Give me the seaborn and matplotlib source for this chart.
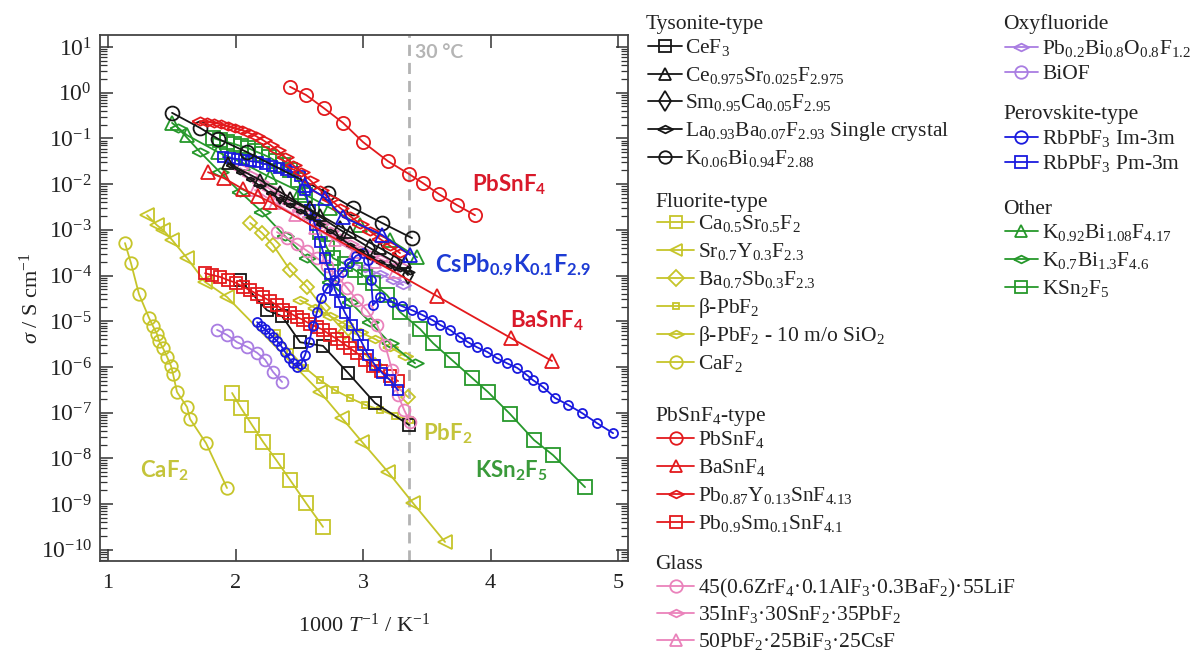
import numpy as np
import pandas as pd
import matplotlib
matplotlib.use("Agg")
import matplotlib.pyplot as plt
from matplotlib.lines import Line2D
from matplotlib.ticker import LogLocator, NullFormatter, FixedLocator
import seaborn as sns

# ---------------- data: x = 1000/T (K^-1), logsig = log10(sigma / S cm^-1) ----------------
cef3_x = [2.035, 2.247, 2.365, 2.506, 2.686, 2.882, 3.094, 3.361]
cef3_logsig = [-4.10, -4.76, -4.89, -5.46, -5.54, -6.13, -6.79, -7.27]

ce_sr_x = [1.941, 2.192, 2.427, 2.663, 2.898, 3.133, 3.329]
ce_sr_logsig = [-1.54, -1.91, -2.30, -2.68, -3.05, -3.40, -3.71]

sm_ca_x = [2.349, 2.584, 2.820, 3.055, 3.251, 3.353]
sm_ca_logsig = [-2.24, -2.57, -3.00, -3.40, -3.71, -3.99]

la_ba_x = [1.957, 2.035, 2.114, 2.192, 2.271, 2.349, 2.427, 2.506, 2.584, 2.663,
           2.741, 2.820, 2.898, 2.976, 3.055, 3.133, 3.212, 3.290, 3.369]
la_ba_logsig = [-1.58, -1.74, -1.89, -2.04, -2.20, -2.33, -2.46, -2.59, -2.72, -2.87,
                -3.03, -3.18, -3.33, -3.46, -3.60, -3.71, -3.79, -3.86, -3.92]

k_bi_x = [1.502, 1.722, 1.863, 2.090, 2.725, 2.922, 3.149, 3.384]
k_bi_logsig = [-0.44, -0.77, -1.01, -1.30, -2.20, -2.52, -2.85, -3.18]

ca_sr_x = [1.973, 2.043, 2.129, 2.216, 2.325, 2.427, 2.553, 2.686]
ca_sr_logsig = [-6.57, -6.90, -7.27, -7.64, -8.06, -8.47, -8.98, -9.50]

sr_y_x = [1.306, 1.384, 1.431, 1.502, 1.620, 1.761, 1.933, 2.663, 2.835, 2.992, 3.196, 3.392, 3.643]
sr_y_logsig = [-2.68, -2.90, -3.00, -3.22, -3.62, -4.14, -4.47, -6.55, -7.12, -7.64, -8.30, -8.98, -9.83]

ba_sb_x = [2.114, 2.208, 2.294, 2.427, 2.561, 2.686, 2.859, 3.094, 3.353]
ba_sb_logsig = [-2.85, -3.07, -3.33, -3.88, -4.25, -4.71, -5.24, -5.96, -6.66]

pbf2_x = [2.325, 2.427, 2.545, 2.663, 2.780, 2.898, 3.016, 3.133, 3.251, 3.369]
pbf2_logsig = [-5.26, -5.67, -6.02, -6.29, -6.51, -6.68, -6.83, -6.94, -7.07, -7.16]

pbf2_sio2_x = [2.506, 2.624, 2.741, 2.859, 2.976, 3.094, 3.212, 3.329]
pbf2_sio2_logsig = [-4.54, -4.71, -4.89, -5.06, -5.24, -5.39, -5.57, -5.76]

caf2_x = [1.133, 1.180, 1.243, 1.322, 1.353, 1.384, 1.400, 1.431, 1.463, 1.494,
          1.510, 1.541, 1.620, 1.643, 1.769, 1.933]
caf2_logsig = [-3.29, -3.73, -4.41, -4.93, -5.11, -5.28, -5.43, -5.59, -5.78, -5.98,
               -6.16, -6.55, -6.88, -7.14, -7.67, -8.65]

pbsnf4_x = [2.427, 2.553, 2.694, 2.843, 3.000, 3.196, 3.361, 3.471, 3.596, 3.737, 3.878]
pbsnf4_logsig = [0.13, -0.05, -0.34, -0.66, -1.08, -1.50, -1.78, -1.98, -2.22, -2.46, -2.68]

basnf4_x = [1.784, 1.910, 2.059, 2.176, 2.271, 3.580, 4.161, 4.482]
basnf4_logsig = [-1.74, -1.87, -2.11, -2.26, -2.39, -4.45, -5.37, -5.87]

pby_x = [1.722, 1.776, 1.831, 1.886, 1.941, 1.996, 2.051, 2.106, 2.161, 2.216, 2.271, 2.325,
         2.388, 2.451, 2.514, 2.584, 2.663, 2.741, 2.820, 2.898, 2.976, 3.055, 3.133, 3.212, 3.290]
pby_logsig = [-0.62, -0.64, -0.66, -0.69, -0.73, -0.77, -0.82, -0.88, -0.95, -1.04, -1.14, -1.25,
              -1.41, -1.58, -1.74, -1.91, -2.13, -2.33, -2.52, -2.70, -2.87, -3.03, -3.20, -3.35, -3.51]

pbsm_x = [1.761, 1.816, 1.878, 1.941, 2.004, 2.059, 2.114, 2.169, 2.216, 2.271, 2.325, 2.373, 2.427, 2.482,
          2.529, 2.584, 2.639, 2.686, 2.741, 2.796, 2.843, 2.898, 2.953, 3.016, 3.078, 3.141, 3.212, 3.275]
pbsm_logsig = [-3.95, -3.99, -4.03, -4.10, -4.16, -4.25, -4.32, -4.41, -4.47, -4.56, -4.65, -4.76, -4.82, -4.91,
               -4.97, -5.06, -5.13, -5.19, -5.30, -5.39, -5.48, -5.59, -5.70, -5.85, -5.98, -6.09, -6.20, -6.31]

glass_zr_x = [2.325, 2.404, 2.482, 2.561, 2.639, 2.718, 2.796, 2.875, 2.953, 3.031, 3.110, 3.173,
              3.228, 3.275, 3.322, 3.369]
glass_zr_logsig = [-3.05, -3.18, -3.31, -3.46, -3.62, -3.79, -4.01, -4.27, -4.54, -4.76, -5.08, -5.52,
                   -6.07, -6.62, -6.94, -7.21]

glass_in_x = [2.035, 2.114, 2.192, 2.271, 2.349, 2.427, 2.506, 2.584, 2.663, 2.741, 2.820, 2.898,
              2.976, 3.055, 3.133, 3.212, 3.290]
glass_in_logsig = [-1.65, -1.80, -1.95, -2.11, -2.26, -2.41, -2.57, -2.72, -2.87, -3.03, -3.18, -3.31,
                   -3.44, -3.55, -3.64, -3.73, -3.79]

glass_pb_x = [2.153, 2.310, 2.467, 2.624, 2.780, 2.937, 3.094, 3.251]
glass_pb_logsig = [-2.13, -2.41, -2.68, -2.96, -3.22, -3.49, -3.71, -3.92]

pbbi_x = [2.898, 3.016, 3.133, 3.235, 3.314]
pbbi_logsig = [-3.71, -3.84, -3.97, -4.10, -4.21]

biof_x = [1.855, 1.933, 2.012, 2.090, 2.169, 2.231, 2.294, 2.365]
biof_logsig = [-5.19, -5.30, -5.46, -5.56, -5.69, -5.84, -6.11, -6.33]

rb_im_x = [2.169, 2.200, 2.231, 2.263, 2.294, 2.325, 2.357, 2.388, 2.420, 2.451,
           2.482, 2.514, 2.545, 2.576, 2.608, 2.639, 2.671, 2.718, 2.773, 2.835,
           2.890, 2.945, 3.000, 3.039, 3.063, 3.078, 3.133, 3.227, 3.306, 3.384,
           3.463, 3.541, 3.604, 3.682, 3.761, 3.824, 3.894, 3.973, 4.051, 4.129,
           4.208, 4.286, 4.333, 4.412, 4.506, 4.608, 4.718, 4.835, 4.961]
rb_im_logsig = [-5.02, -5.11, -5.17, -5.26, -5.35, -5.43, -5.54, -5.67, -5.81, -5.92,
                -6.00, -5.94, -5.74, -5.46, -5.11, -4.80, -4.49, -4.27, -4.10, -3.92,
                -3.73, -3.57, -3.51, -3.66, -4.10, -4.65, -4.47, -4.58, -4.67, -4.76,
                -4.86, -4.97, -5.08, -5.19, -5.35, -5.46, -5.57, -5.67, -5.81, -5.92,
                -6.02, -6.18, -6.29, -6.44, -6.68, -6.83, -7.01, -7.23, -7.45]

rb_pm_x = [1.902, 1.957, 2.012, 2.067, 2.122, 2.176, 2.231, 2.286, 2.341, 2.396, 2.451, 2.506,
           2.545, 2.584, 2.624, 2.663, 2.702, 2.741, 2.780, 2.820, 2.859, 2.914, 2.961, 3.000,
           3.039, 3.094, 3.149, 3.212, 3.275]
rb_pm_logsig = [-1.41, -1.43, -1.45, -1.47, -1.50, -1.52, -1.56, -1.60, -1.65, -1.69, -1.74, -1.82,
                -2.13, -2.57, -2.90, -3.27, -3.62, -3.97, -4.32, -4.58, -4.82, -5.08, -5.30, -5.52,
                -5.74, -5.96, -6.13, -6.29, -6.51]

k092_x = [1.502, 1.620, 1.863, 2.059, 2.271, 2.506, 2.741, 2.976, 3.212, 3.424]
k092_logsig = [-0.66, -0.93, -1.30, -1.54, -1.85, -2.17, -2.52, -2.90, -3.22, -3.60]

k07_x = [1.549, 1.722, 1.878, 2.035, 2.208, 2.388, 2.561, 2.741, 2.898, 3.055, 3.212, 3.408]
k07_logsig = [-0.77, -1.30, -1.74, -2.17, -2.61, -3.14, -3.62, -4.14, -4.58, -5.02, -5.48, -5.92]

ksn_x = [1.824, 1.878, 1.933, 1.988, 2.043, 2.098, 2.153, 2.208, 2.263, 2.318, 2.373,
         2.427, 2.490, 2.545, 2.600, 2.663, 2.718, 2.765, 2.859, 2.937, 3.016, 3.078,
         3.188, 3.290, 3.447, 3.549, 3.698, 3.855, 3.980, 4.153, 4.341, 4.490, 4.741]
ksn_logsig = [-0.99, -1.04, -1.08, -1.12, -1.17, -1.21, -1.28, -1.34, -1.41, -1.50, -1.58,
              -1.69, -1.91, -2.24, -2.61, -3.05, -3.40, -3.62, -3.75, -3.88, -4.03, -4.16,
              -4.43, -4.80, -5.17, -5.48, -5.85, -6.24, -6.55, -7.03, -7.60, -7.93, -8.63]

cspb_x = [2.545, 2.702, 2.843, 3.149, 3.369]
cspb_logsig = [-2.02, -2.30, -2.72, -3.11, -3.55]

t30_x = 3.36  # 30 degC reference line position (1000/T)
x_ticks = [1, 2, 3, 4, 5]
y_decades = list(range(-10, 2))

# ---------------- style ----------------
sns.set_theme(style="ticks")
plt.rcParams["font.family"] = ["Liberation Serif", "DejaVu Serif"]
plt.rcParams["mathtext.fontset"] = "custom"
plt.rcParams["mathtext.rm"] = "Liberation Serif"
plt.rcParams["mathtext.it"] = "Liberation Serif:italic"
plt.rcParams["mathtext.bf"] = "Liberation Serif:bold"
plt.rcParams["mathtext.default"] = "regular"
plt.rcParams["axes.unicode_minus"] = False

BLK = "#161616"
YEL = "#c6c52a"
RED = "#e3191c"
PINK = "#ea82bb"
BLUE = "#1a1ade"
GRN = "#26982b"
PURP = "#a97de2"
FLAT = [(-1, 0), (0, 0.5), (1, 0), (0, -0.5), (-1, 0)]

W, H = 1200, 652
fig = plt.figure(figsize=(W / 100, H / 100), dpi=100)
ax = fig.add_axes([100 / W, 1 - 561 / H, 528 / W, 526 / H])
ax.set_yscale("log")

series = [
    (caf2_x, caf2_logsig, YEL, "o", 9, 3),
    (ca_sr_x, ca_sr_logsig, YEL, "s", 9.5, 3),
    (sr_y_x, sr_y_logsig, YEL, "<", 9.5, 3),
    (ba_sb_x, ba_sb_logsig, YEL, "D", 7.5, 3),
    (pbf2_x, pbf2_logsig, YEL, "s", 5, 3),
    (pbf2_sio2_x, pbf2_sio2_logsig, YEL, FLAT, 11, 3),
    (biof_x, biof_logsig, PURP, "o", 8.5, 3),
    (pbbi_x, pbbi_logsig, PURP, FLAT, 11, 3),
    (cef3_x, cef3_logsig, BLK, "s", 9, 4),
    (pbsm_x, pbsm_logsig, RED, "s", 8.5, 4),
    (k07_x, k07_logsig, GRN, FLAT, 12, 4),
    (k092_x, k092_logsig, GRN, "^", 9.5, 4),
    (ksn_x, ksn_logsig, GRN, "s", 9.5, 4),
    (glass_zr_x, glass_zr_logsig, PINK, "o", 8.5, 5),
    (glass_in_x, glass_in_logsig, PINK, FLAT, 12, 5),
    (glass_pb_x, glass_pb_logsig, PINK, "^", 9, 5),
    (rb_pm_x, rb_pm_logsig, BLUE, "s", 6.5, 6),
    (rb_im_x, rb_im_logsig, BLUE, "o", 6.5, 6),
    (la_ba_x, la_ba_logsig, BLK, FLAT, 6, 7),
    (ce_sr_x, ce_sr_logsig, BLK, "^", 8, 7),
    (sm_ca_x, sm_ca_logsig, BLK, "d", 9, 7),
    (k_bi_x, k_bi_logsig, BLK, "o", 10, 7),
    (pby_x, pby_logsig, RED, FLAT, 12, 8),
    (basnf4_x, basnf4_logsig, RED, "^", 10.5, 8),
    (pbsnf4_x, pbsnf4_logsig, RED, "o", 9.5, 8),
    (cspb_x, cspb_logsig, BLUE, "^", 10, 9),
]

for xs, ls, col, mk, ms, z in series:
    df = pd.DataFrame({"x": xs, "sigma": np.power(10.0, ls)})
    sns.lineplot(data=df, x="x", y="sigma", ax=ax, sort=False, estimator=None,
                 errorbar=None, legend=False, color=col, marker=mk, markersize=ms,
                 markerfacecolor="none", markeredgecolor=col, markeredgewidth=1.3,
                 linewidth=1.3, zorder=z)

ax.axvline(t30_x, color="#b3b3b3", lw=2, ls=(0, (4, 2.5)), zorder=1)

ax.set_xlim(0.937, 5.078)
ax.set_ylim(10 ** -10.247, 10 ** 1.263)
ax.xaxis.set_major_locator(FixedLocator(x_ticks))
ax.yaxis.set_major_locator(FixedLocator([10.0 ** d for d in y_decades]))
ax.yaxis.set_minor_locator(LogLocator(base=10, subs=np.arange(2, 10), numticks=400))
ax.yaxis.set_minor_formatter(NullFormatter())
ax.tick_params(which="both", direction="in", top=True, right=True, colors="#333333",
               labelcolor="#222222")
ax.tick_params(which="major", length=9, width=1.1, labelsize=17, pad=6)
ax.tick_params(axis="x", which="major", pad=9, labelsize=16)
ax.tick_params(which="minor", length=5, width=0.9)
for sp in ax.spines.values():
    sp.set_color("#444444")
    sp.set_linewidth(1.3)
ax.set_xlabel("1000 $\\mathit{T}^{-1}$ / K$^{-1}$", fontsize=16, labelpad=15, color="#222222")
ax.set_ylabel("$\\mathit{\\sigma}$ / S cm$^{-1}$", fontsize=16, color="#222222")
ax.yaxis.set_label_coords(-0.108, 0.5)

# annotations (bold sans)
ann = dict(fontfamily=["Lato", "DejaVu Sans"], fontweight="bold", va="baseline", ha="left")
ax.text(3.41, 10 ** 0.76, "30 °C", color="#b5b5b5", fontsize=14, **ann)
ax.text(3.855, 10 ** -2.17, "PbSnF$_4$", color="#d9192a", fontsize=16, **ann)
ax.text(3.565, 10 ** -3.92, "CsPb$_{0.9}$K$_{0.1}$F$_{2.9}$", color="#1d3bd4", fontsize=17, **ann)
ax.text(4.153, 10 ** -5.13, "BaSnF$_4$", color="#d9192a", fontsize=16, **ann)
ax.text(3.471, 10 ** -7.60, "PbF$_2$", color="#c4c43a", fontsize=16, **ann)
ax.text(3.878, 10 ** -8.41, "KSn$_2$F$_5$", color="#3a9a3a", fontsize=16, **ann)
ax.text(1.251, 10 ** -8.41, "CaF$_2$", color="#c4c43a", fontsize=16, **ann)

# ---------------- legend (grouped, drawn in figure pixel coordinates) ----------------
LFS = 15.5


def group(header, hx, hy, lx0, lx1, tx, entries):
    fig.text(hx / W, 1 - (hy + 7) / H, header, fontsize=LFS, va="baseline", ha="left",
             color="#222222")
    for (label, col, mk, ms, y) in entries:
        yy = 1 - y / H
        fig.add_artist(Line2D([lx0 / W, lx1 / W], [yy, yy], transform=fig.transFigure,
                              color=col, lw=1.3))
        fig.add_artist(Line2D([(lx0 + lx1) / 2 / W], [yy], transform=fig.transFigure,
                              color=col, lw=0, marker=mk, ms=ms, mfc="none", mec=col, mew=1.3))
        fig.text(tx / W, 1 - (y + 7) / H, label, fontsize=LFS, va="baseline", ha="left",
                 color="#222222")


group("Tysonite-type", 646, 22, 648, 682, 685, [
    ("CeF$_3$", BLK, "s", 9, 46),
    ("Ce$_{0.975}$Sr$_{0.025}$F$_{2.975}$", BLK, "^", 9, 74),
    ("Sm$_{0.95}$Ca$_{0.05}$F$_{2.95}$", BLK, "d", 10, 101),
    ("La$_{0.93}$Ba$_{0.07}$F$_{2.93}$ Single crystal", BLK, FLAT, 11, 129),
    ("K$_{0.06}$Bi$_{0.94}$F$_{2.88}$", BLK, "o", 9, 157),
])
group("Fluorite-type", 655, 200, 657, 694, 698, [
    ("Ca$_{0.5}$Sr$_{0.5}$F$_2$", YEL, "s", 9, 222),
    ("Sr$_{0.7}$Y$_{0.3}$F$_{2.3}$", YEL, "<", 9, 250),
    ("Ba$_{0.7}$Sb$_{0.3}$F$_{2.3}$", YEL, "D", 8, 278),
    ("β-PbF$_2$", YEL, "s", 5, 306),
    ("β-PbF$_2$ - 10 m/o SiO$_2$", YEL, FLAT, 11, 334),
    ("CaF$_2$", YEL, "o", 9, 362),
])
group("PbSnF$_4$-type", 655, 414, 657, 694, 698, [
    ("PbSnF$_4$", RED, "o", 9, 438),
    ("BaSnF$_4$", RED, "^", 9, 466),
    ("Pb$_{0.87}$Y$_{0.13}$SnF$_{4.13}$", RED, FLAT, 11, 494),
    ("Pb$_{0.9}$Sm$_{0.1}$SnF$_{4.1}$", RED, "s", 9, 522),
])
group("Glass", 655, 562, 657, 694, 698, [
    ("45(0.6ZrF$_4$·0.1AlF$_3$·0.3BaF$_2$)·55LiF", PINK, "o", 9, 586),
    ("35InF$_3$·30SnF$_2$·35PbF$_2$", PINK, FLAT, 11, 613),
    ("50PbF$_2$·25BiF$_3$·25CsF", PINK, "^", 9, 640),
])
group("Oxyfluoride", 1003, 22, 1005, 1038, 1042, [
    ("Pb$_{0.2}$Bi$_{0.8}$O$_{0.8}$F$_{1.2}$", PURP, FLAT, 11, 47),
    ("BiOF", PURP, "o", 9, 72),
])
group("Perovskite-type", 1003, 112, 1005, 1038, 1042, [
    ("RbPbF$_3$ Im-3m", BLUE, "o", 9, 137),
    ("RbPbF$_3$ Pm-3m", BLUE, "s", 9, 162),
])
group("Other", 1003, 207, 1005, 1038, 1042, [
    ("K$_{0.92}$Bi$_{1.08}$F$_{4.17}$", GRN, "^", 9, 231),
    ("K$_{0.7}$Bi$_{1.3}$F$_{4.6}$", GRN, FLAT, 11, 259),
    ("KSn$_2$F$_5$", GRN, "s", 9, 287),
])

fig.savefig("out.png", dpi=100)
